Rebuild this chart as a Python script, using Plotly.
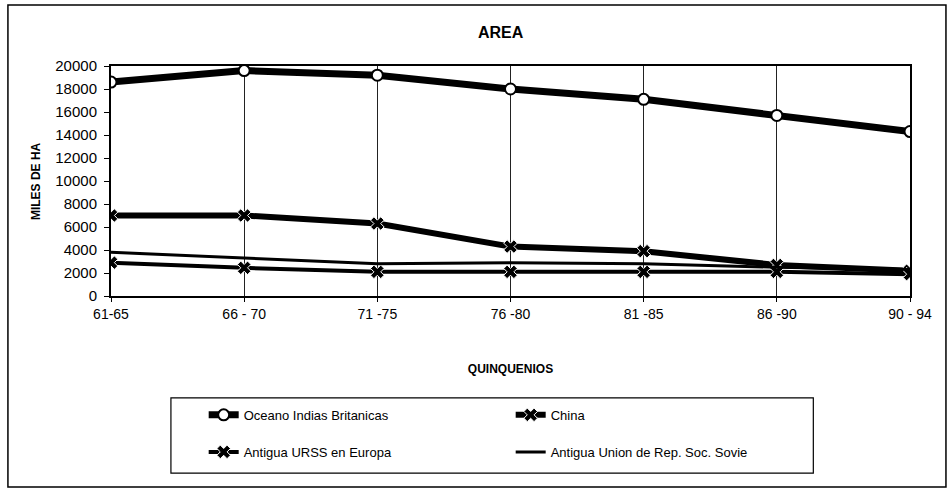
import plotly.graph_objects as go

quinquenios = ["61-65", "66 - 70", "71 -75", "76 -80", "81 -85", "86 -90", "90 - 94"]

oceano_indias = [18600, 19600, 19200, 18000, 17100, 15700, 14300]
china = [7000, 7000, 6300, 4300, 3900, 2700, 2200]
urss_europa = [2900, 2450, 2100, 2100, 2100, 2100, 1900]
union_sovietica = [3800, 3300, 2800, 2900, 2800, 2500, 2300]

FONT = "Liberation Sans, Arial, sans-serif"

fig = go.Figure()

fig.add_trace(go.Scatter(
    x=quinquenios, y=oceano_indias, name="Oceano Indias Britanicas",
    mode="lines+markers", legend="legend",
    line=dict(color="black", width=7),
    marker=dict(symbol="circle", size=11, color="white",
                line=dict(color="black", width=2)),
))
fig.add_trace(go.Scatter(
    x=quinquenios, y=china, name="China",
    mode="lines+markers", legend="legend",
    line=dict(color="black", width=6),
    marker=dict(symbol="x", size=12, color="black",
                line=dict(color="white", width=1)),
))
fig.add_trace(go.Scatter(
    x=quinquenios, y=urss_europa, name="Antigua URSS en Europa",
    mode="lines+markers", legend="legend2",
    line=dict(color="black", width=4),
    marker=dict(symbol="x", size=12, color="black",
                line=dict(color="white", width=1)),
))
fig.add_trace(go.Scatter(
    x=quinquenios, y=union_sovietica, name="Antigua Union de Rep. Soc. Sovie",
    mode="lines", legend="legend2",
    line=dict(color="black", width=3),
))

# two one-row legends so the rows can sit as far apart as in the original
legend_style = dict(
    orientation="h", x=0.116, xanchor="left", yanchor="middle",
    bgcolor="rgba(0,0,0,0)", borderwidth=0,
    entrywidth=262, entrywidthmode="pixels",
    font=dict(size=13, family=FONT),
)

fig.update_layout(
    width=950, height=490,
    margin=dict(l=111, r=40, t=66, b=194),
    paper_bgcolor="white", plot_bgcolor="white",
    font=dict(family=FONT, color="black", size=12),
    title=dict(text="<b>AREA</b>", x=0.527, xanchor="center", y=0.933,
               yanchor="middle", font=dict(size=16)),
    showlegend=True,
    legend=dict(legend_style, y=-0.517),
    legend2=dict(legend_style, y=-0.678),
)

fig.update_xaxes(
    type="category", range=[0, 6],
    showgrid=True, gridcolor="#222", gridwidth=1,
    showline=True, linecolor="black", linewidth=2, mirror=True,
    ticks="outside", ticklen=4, tickcolor="black",
    tickfont=dict(size=14, family=FONT),
    title=dict(text="<b>QUINQUENIOS</b>", standoff=44, font=dict(size=12)),
)
fig.update_yaxes(
    range=[0, 20000], dtick=2000, tickformat="d",
    showgrid=False, zeroline=False,
    showline=True, linecolor="black", linewidth=2, mirror=True,
    ticks="outside", ticklen=5, tickcolor="black", ticklabelstandoff=4,
    tickfont=dict(size=15, family=FONT),
)

fig.add_annotation(text="<b>MILES DE HA</b>", xref="paper", yref="paper",
                   x=-0.105, y=0.5, textangle=-90, showarrow=False,
                   font=dict(size=12))

# outer chart frame
fig.add_shape(type="rect", xref="paper", yref="paper",
              x0=-0.129, x1=1.045, y0=-0.830, y1=1.265,
              line=dict(color="black", width=1.5), layer="below")
# legend box
fig.add_shape(type="rect", xref="paper", yref="paper",
              x0=0.075, x1=0.879, y0=-0.770, y1=-0.443,
              line=dict(color="black", width=1.2), layer="below")

fig.write_html("out.html", config={"displayModeBar": False},
               post_script="document.body.style.margin='0';")
